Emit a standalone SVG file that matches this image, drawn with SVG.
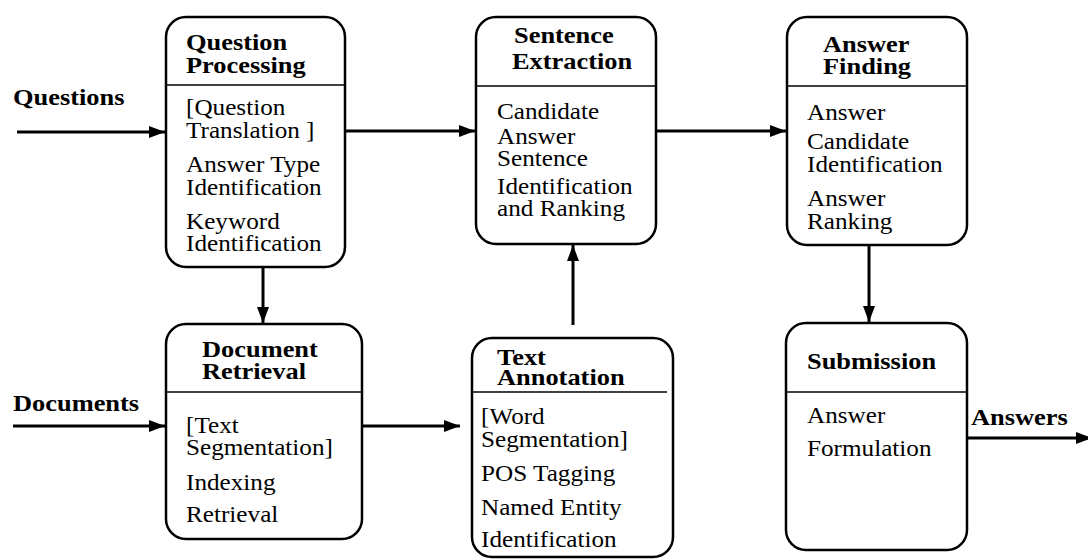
<svg xmlns="http://www.w3.org/2000/svg" width="1088" height="559" viewBox="0 0 1088 559">
<style>
.box{fill:#fff;stroke:#000;stroke-width:2.5}
.div{stroke:#000;stroke-width:1.5}
.t{font-family:"Liberation Serif","Times New Roman",serif;font-weight:bold;font-size:24px;fill:#000}
.b{font-family:"Liberation Serif","Times New Roman",serif;font-size:22.5px;fill:#000}
.c{stroke:#000;stroke-width:3;fill:none}
</style>
<defs>
<marker id="ah" markerUnits="userSpaceOnUse" markerWidth="17" markerHeight="12" refX="16" refY="6" orient="auto" viewBox="0 0 17 12">
<path d="M0,0 L16,6 L0,12 z" fill="#000"/>
</marker>
</defs>
<g id="connectors">
<line class="c" x1="17" y1="132" x2="165" y2="132" marker-end="url(#ah)"/>
<line class="c" x1="345" y1="131" x2="475" y2="131" marker-end="url(#ah)"/>
<line class="c" x1="656" y1="131" x2="786" y2="131" marker-end="url(#ah)"/>
<line class="c" x1="263" y1="267" x2="263" y2="323" marker-end="url(#ah)"/>
<line class="c" x1="869" y1="245" x2="869" y2="322" marker-end="url(#ah)"/>
<line class="c" x1="573" y1="325" x2="573" y2="245" marker-end="url(#ah)"/>
<line class="c" x1="13" y1="426" x2="165" y2="426" marker-end="url(#ah)"/>
<line class="c" x1="362" y1="426" x2="460" y2="426" marker-end="url(#ah)"/>
<line class="c" x1="967" y1="438" x2="1092" y2="438" marker-end="url(#ah)"/>
</g>
<g id="labels">
<g transform="translate(13 0) scale(1.1 1)"><text class="t" y="105">Questions</text></g>
<g transform="translate(13 0) scale(1.1 1)"><text class="t" y="411">Documents</text></g>
<g transform="translate(971 0) scale(1.1 1)"><text class="t" y="425">Answers</text></g>
</g>
<g id="question-processing">
<rect class="box" x="166" y="17" width="179" height="250" rx="20"/>
<line class="div" x1="166" y1="85" x2="345" y2="85"/>
<g transform="translate(186 0) scale(1.1 1)"><text class="t" y="50">Question</text><text class="t" y="73">Processing</text></g>
<g transform="translate(186 0) scale(1.12 1)">
<text class="b" y="115">[Question</text><text class="b" y="138">Translation ]</text>
<text class="b" y="172">Answer Type</text><text class="b" y="195">Identification</text>
<text class="b" y="229">Keyword</text><text class="b" y="251">Identification</text>
</g>
</g>
<g id="sentence-extraction">
<rect class="box" x="476" y="17" width="180" height="227" rx="20"/>
<line class="div" x1="476" y1="86" x2="656" y2="86"/>
<g transform="translate(514 0) scale(1.1 1)"><text class="t" y="43">Sentence</text></g>
<g transform="translate(512 0) scale(1.1 1)"><text class="t" y="69">Extraction</text></g>
<g transform="translate(497 0) scale(1.12 1)">
<text class="b" y="119">Candidate</text><text class="b" y="144">Answer</text><text class="b" y="166">Sentence</text>
<text class="b" y="194">Identification</text><text class="b" y="216">and Ranking</text>
</g>
</g>
<g id="answer-finding">
<rect class="box" x="787" y="17" width="180" height="228" rx="20"/>
<line class="div" x1="787" y1="86" x2="967" y2="86"/>
<g transform="translate(823 0) scale(1.1 1)"><text class="t" y="52">Answer</text><text class="t" y="74">Finding</text></g>
<g transform="translate(807 0) scale(1.12 1)">
<text class="b" y="120">Answer</text>
<text class="b" y="149">Candidate</text><text class="b" y="172">Identification</text>
<text class="b" y="206">Answer</text><text class="b" y="229">Ranking</text>
</g>
</g>
<g id="document-retrieval">
<rect class="box" x="166" y="324" width="196" height="215" rx="20"/>
<line class="div" x1="166" y1="392" x2="362" y2="392"/>
<g transform="translate(202 0) scale(1.1 1)"><text class="t" y="357">Document</text><text class="t" y="379">Retrieval</text></g>
<g transform="translate(186 0) scale(1.12 1)">
<text class="b" y="433">[Text</text><text class="b" y="455">Segmentation]</text>
<text class="b" y="490">Indexing</text>
<text class="b" y="522">Retrieval</text>
</g>
</g>
<g id="text-annotation">
<rect class="box" x="472" y="338" width="201" height="219" rx="20"/>
<line class="div" x1="471" y1="392" x2="667" y2="392"/>
<g transform="translate(497 0) scale(1.1 1)"><text class="t" y="365">Text</text><text class="t" y="385">Annotation</text></g>
<g transform="translate(481 0) scale(1.12 1)">
<text class="b" y="424">[Word</text><text class="b" y="447">Segmentation]</text>
<text class="b" y="481">POS Tagging</text>
<text class="b" y="515">Named Entity</text>
<text class="b" y="547">Identification</text>
</g>
</g>
<g id="submission">
<rect class="box" x="786" y="323" width="181" height="227" rx="20"/>
<line class="div" x1="786" y1="392" x2="967" y2="392"/>
<g transform="translate(807 0) scale(1.1 1)"><text class="t" y="369">Submission</text></g>
<g transform="translate(807 0) scale(1.12 1)">
<text class="b" y="423">Answer</text><text class="b" y="456">Formulation</text>
</g>
</g>
</svg>
